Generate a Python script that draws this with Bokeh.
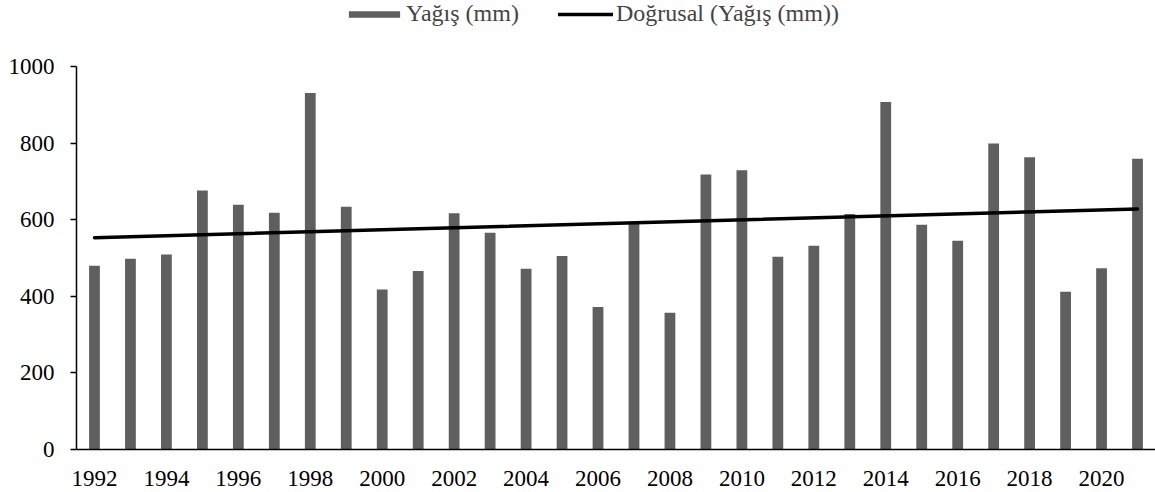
from bokeh.plotting import figure
from bokeh.models import ColumnDataSource, Legend, LegendItem, FixedTicker, Range1d
from bokeh.embed import file_html
from bokeh.resources import INLINE

years = list(range(1992, 2022))
rain = [480, 498, 509, 676, 639, 618, 931, 634, 418, 466,
        617, 566, 472, 505, 372, 589, 357, 718, 729, 503,
        532, 615, 907, 587, 545, 799, 763, 412, 473, 759]
trend_years = [1992, 2021]
trend_values = [553, 628]
x_tick_years = years[::2]
y_ticks = [0, 200, 400, 600, 800, 1000]

FONT = "Liberation Serif"

src = ColumnDataSource(dict(year=years, rain=rain))
tsrc = ColumnDataSource(dict(year=trend_years, val=trend_values))

# frame spans page y 0..449; value 1000 sits at y ~66
y_top = 1000 * 449 / 383

p = figure(width=1155, height=492, output_backend="svg", toolbar_location=None,
           x_range=Range1d(1991.5, 2021.5), y_range=Range1d(0, y_top),
           min_border_left=76, min_border_right=0, min_border_top=0, min_border_bottom=43)
p.outline_line_color = None
p.grid.grid_line_color = None
p.background_fill_color = "white"
p.border_fill_color = "white"

bars = p.vbar(x="year", top="rain", width=0.3, source=src,
              fill_color="#5f5f5f", line_color=None)
trend = p.line(x="year", y="val", source=tsrc, line_color="black", line_width=3.5,
               line_cap="round")

xa = p.xaxis[0]
xa.ticker = FixedTicker(ticks=x_tick_years)
xa.major_tick_out = 0
xa.major_tick_in = 0
xa.minor_tick_out = 0
xa.minor_tick_in = 0
xa.axis_line_color = "black"
xa.axis_line_width = 1.5
xa.major_label_standoff = 21
xa.major_label_text_font = FONT
xa.major_label_text_font_size = "23px"
xa.major_label_text_color = "black"

ya = p.yaxis[0]
ya.ticker = FixedTicker(ticks=y_ticks)
ya.bounds = (0, 1000)
ya.major_tick_out = 6
ya.major_tick_in = 0
ya.minor_tick_out = 0
ya.minor_tick_in = 0
ya.axis_line_color = "black"
ya.axis_line_width = 1.5
ya.major_tick_line_color = "black"
ya.major_tick_line_width = 1.5
ya.major_label_standoff = 16
ya.major_label_text_font = FONT
ya.major_label_text_font_size = "23px"
ya.major_label_text_color = "black"

leg1 = Legend(items=[LegendItem(label="Yağış (mm)", renderers=[bars])],
              location=(266, 422), orientation="horizontal",
              glyph_width=64, glyph_height=8, label_standoff=0,
              padding=0, margin=0, spacing=0,
              label_text_font=FONT, label_text_font_size="24px",
              background_fill_alpha=0, border_line_alpha=0)
leg2 = Legend(items=[LegendItem(label="Doğrusal (Yağış (mm))", renderers=[trend])],
              location=(482, 422), orientation="horizontal",
              glyph_width=55, glyph_height=8, label_standoff=3,
              padding=0, margin=0, spacing=0,
              label_text_font=FONT, label_text_font_size="24px",
              background_fill_alpha=0, border_line_alpha=0)
p.add_layout(leg1, "center")
p.add_layout(leg2, "center")

open("out.html", "w").write(file_html(p, INLINE))
